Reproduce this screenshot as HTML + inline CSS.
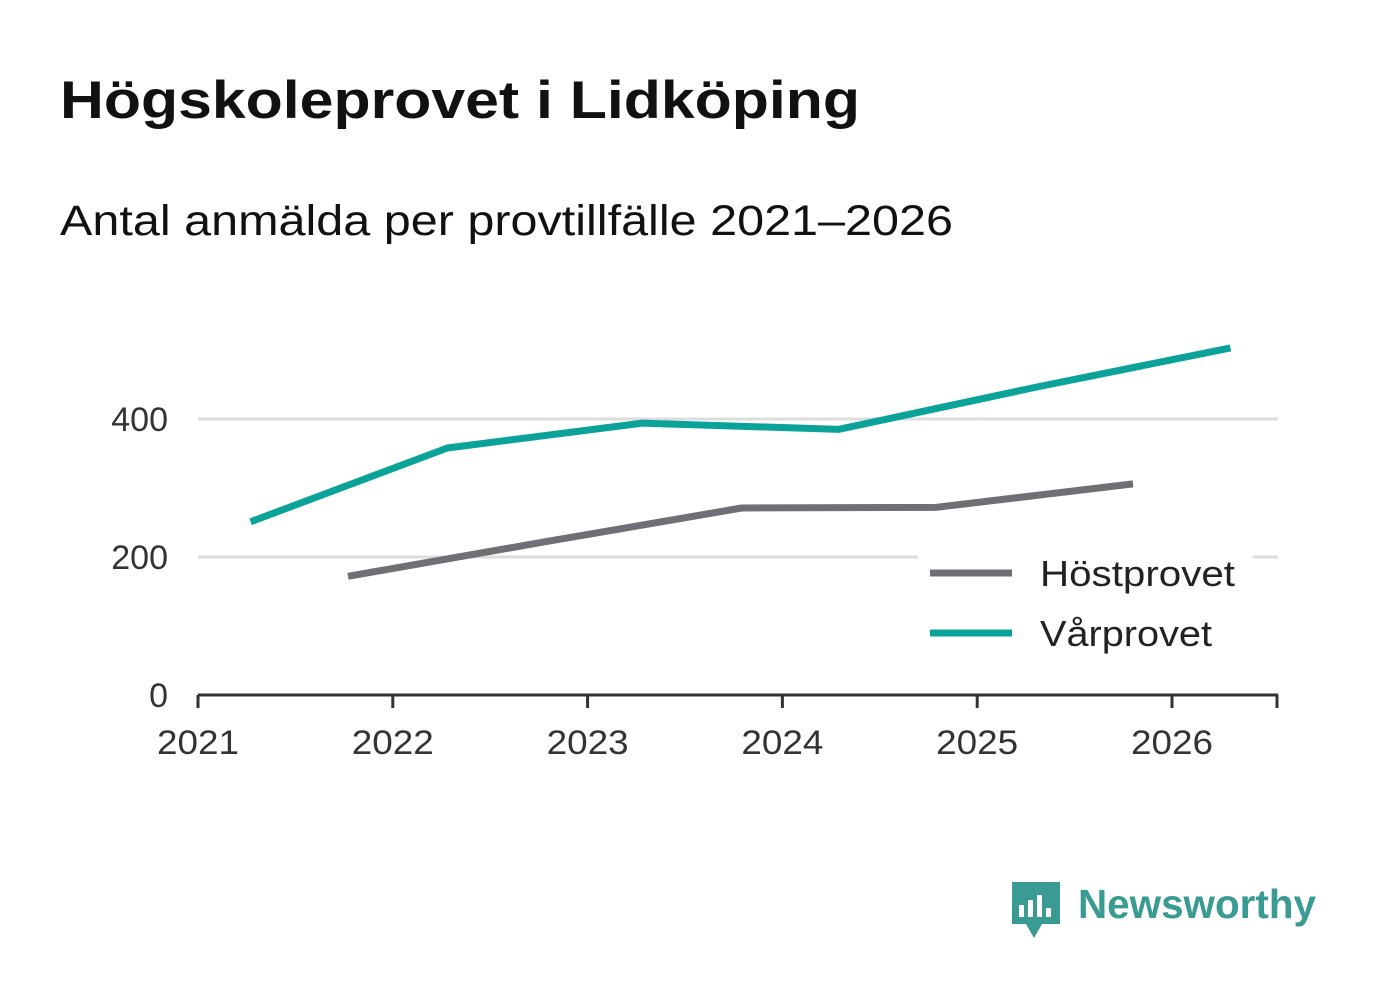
<!DOCTYPE html>
<html><head><meta charset="utf-8"><style>
body{margin:0;background:#fff;width:1382px;height:999px;overflow:hidden;font-family:"Liberation Sans",sans-serif}
</style></head><body>
<svg width="1382" height="999" id="svg">
<text x="60" y="118" font-size="53" font-weight="bold" fill="#111" textLength="800" lengthAdjust="spacingAndGlyphs">Högskoleprovet i Lidköping</text>
<text x="60" y="235" font-size="43" fill="#111" textLength="893" lengthAdjust="spacingAndGlyphs">Antal anmälda per provtillfälle 2021–2026</text>
<g id="grid"></g><g id="axes"></g><g id="lines"></g>
<g>
<rect x="918" y="548" width="335" height="120" fill="#fff"/>
<line x1="930" y1="573" x2="1012" y2="573" stroke="#706f76" stroke-width="7"/>
<text x="1040" y="586" font-size="36" fill="#222" textLength="195" lengthAdjust="spacingAndGlyphs">Höstprovet</text>
<line x1="930" y1="633" x2="1012" y2="633" stroke="#0ba399" stroke-width="7"/>
<text x="1040" y="646" font-size="36" fill="#222" textLength="172" lengthAdjust="spacingAndGlyphs">Vårprovet</text>
</g>
<g>
<path d="M1012 882h48v42h-18l-8 14l-8-14h-14z" fill="#3a9b92"/>
<rect x="1019" y="905" width="5" height="12" fill="#fff"/><rect x="1028" y="900" width="5" height="17" fill="#fff"/><rect x="1037" y="895" width="5" height="22" fill="#fff"/><rect x="1046" y="908" width="5" height="9" fill="#fff"/>
<text x="1078" y="918" font-size="41" font-weight="bold" fill="#3a9b92" textLength="238" lengthAdjust="spacingAndGlyphs">Newsworthy</text>
</g>
</svg>
<script>
const yTicks=[0,200,400];
const xTicks=[2021,2022,2023,2024,2025,2026];
const hostDates=[2021.77,2022.78,2023.79,2024.79,2025.8];
const hostValues=[172,222,271,272,306];
const varDates=[2021.27,2022.28,2023.28,2024.29,2025.3,2026.3];
const varValues=[251,358,394,385,446,503];
const X=d=>198+(d-2021)*194.8, Y=v=>695-v*0.69;
const ns="http://www.w3.org/2000/svg";
function mk(t,a,p){const e=document.createElementNS(ns,t);for(const k in a)e.setAttribute(k,a[k]);p.appendChild(e);return e;}
const grid=document.getElementById('grid'),axes=document.getElementById('axes'),lines=document.getElementById('lines');
yTicks.forEach(v=>{
 if(v>0){const l=mk('line',{x1:198,x2:1278,y1:Y(v),y2:Y(v),stroke:'#ddd','stroke-width':3},grid);
 
 }
 const t=mk('text',{x:168,y:Y(v)+12,'font-size':34,fill:'#333','text-anchor':'end'},axes);t.textContent=v;
 
 
});
const ax=mk('line',{x1:198,x2:1278,y1:695,y2:695,stroke:'#333','stroke-width':3},axes);


xTicks.forEach(d=>{
 mk('line',{x1:X(d),x2:X(d),y1:695,y2:708,stroke:'#333','stroke-width':3},axes);
 const t=mk('text',{x:X(d),y:754,'font-size':34,fill:'#333','text-anchor':'middle',textLength:82,lengthAdjust:'spacingAndGlyphs'},axes);t.textContent=d;
 
 
});
mk('line',{x1:1277,x2:1277,y1:695,y2:708,stroke:'#333','stroke-width':3},axes);
function series(ds,vs,c,n){
 const p=mk('polyline',{points:ds.map((d,i)=>X(d)+','+Y(vs[i])).join(' '),fill:'none',stroke:c,'stroke-width':7,'stroke-linejoin':'round'},lines);
 
 
}
series(hostDates,hostValues,'#706f76','line-hostprovet');
series(varDates,varValues,'#0ba399','line-varprovet');
</script>
</body></html>
